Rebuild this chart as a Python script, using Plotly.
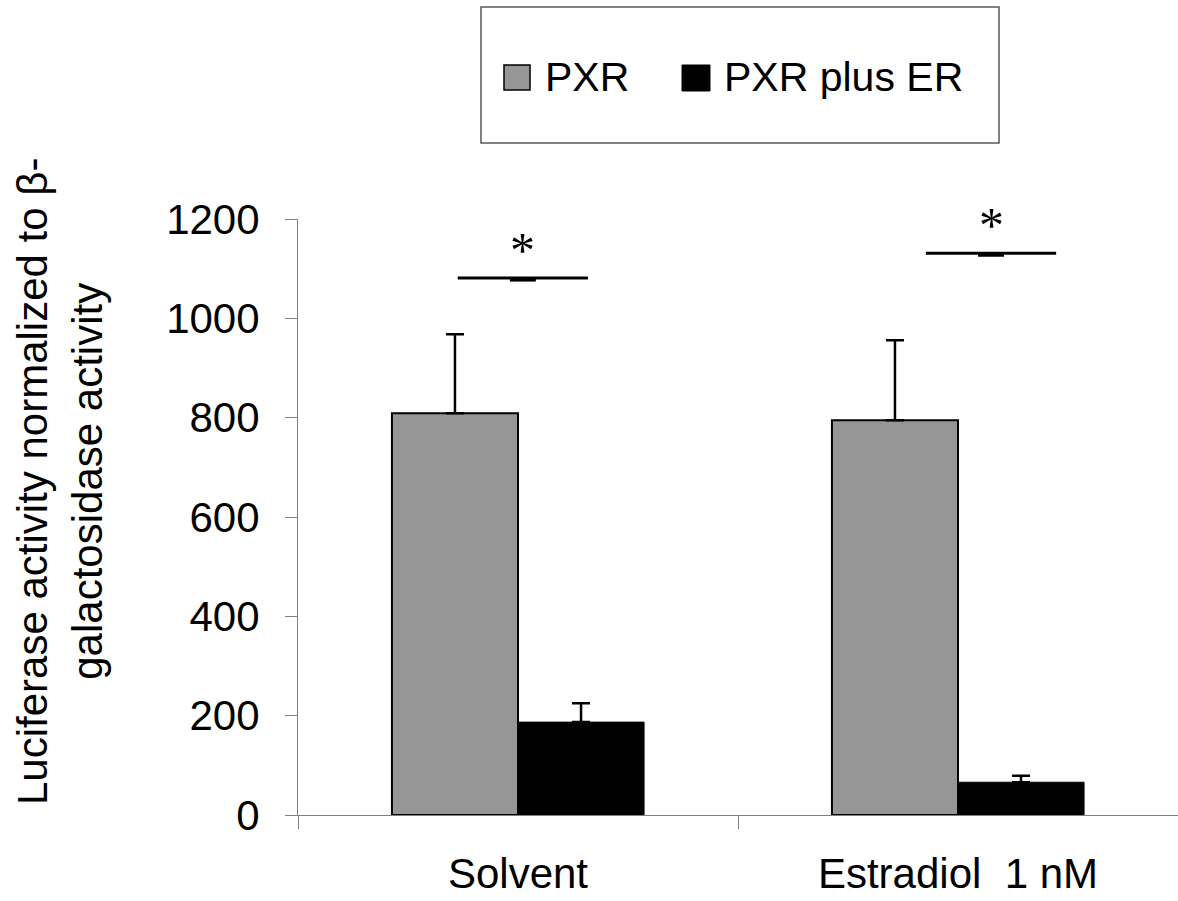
import plotly.graph_objects as go

categories = ["Solvent", "Estradiol  1 nM"]
series_names = ["PXR", "PXR plus ER"]
pxr_values = [809, 795]
pxr_errors = [159, 161]
pxr_er_values = [187, 66]
pxr_er_errors = [38, 13]
sig_levels = [1081, 1131]
sig_labels = ["*", "*"]
y_ticks = [0, 200, 400, 600, 800, 1000, 1200]
y_title = "Luciferase activity normalized to β-<br>galactosidase activity"

FONT = "Liberation Sans, Arial, sans-serif"
W, H = 1178, 901
L, R, T, B = 298, 0, 219, 86


def px_x(X):
    return (X - L) / (W - L - R)


def px_y(Y):
    return (H - B - Y) / (H - T - B)


fig = go.Figure()
fig.add_trace(go.Bar(
    x=categories, y=pxr_values, name=series_names[0],
    marker=dict(color="#969696", line=dict(color="#000000", width=2)),
    error_y=dict(type="data", array=pxr_errors, arrayminus=[0, 0], symmetric=False,
                 color="#000000", thickness=2.5, width=9),
    showlegend=False,
))
fig.add_trace(go.Bar(
    x=categories, y=pxr_er_values, name=series_names[1],
    marker=dict(color="#000000", line=dict(color="#000000", width=1)),
    error_y=dict(type="data", array=pxr_er_errors, arrayminus=[0, 0], symmetric=False,
                 color="#000000", thickness=2.5, width=9),
    showlegend=False,
))

shapes = []
annotations = []
# significance brackets
sig_centers = [0.011, 1.075]
half = 0.148
dip = 0.0295
for i, lvl in enumerate(sig_levels):
    c = sig_centers[i]
    shapes.append(dict(type="line", xref="x", yref="y", x0=c - half, x1=c + half,
                       y0=lvl, y1=lvl, line=dict(color="#000000", width=3)))
    shapes.append(dict(type="line", xref="x", yref="y", x0=c - dip, x1=c + dip,
                       y0=lvl - 4, y1=lvl - 4, line=dict(color="#000000", width=3)))
    annotations.append(dict(xref="x", yref="y", x=c, y=lvl, text=sig_labels[i],
                            showarrow=False, yanchor="bottom", yshift=-2,
                            font=dict(family="Liberation Serif, Times New Roman, serif",
                                      size=50, color="#000000")))

# legend box (manual)
shapes.append(dict(type="rect", xref="paper", yref="paper",
                   x0=px_x(481), x1=px_x(999), y0=px_y(143), y1=px_y(7),
                   line=dict(color="#595959", width=1.5), fillcolor="rgba(0,0,0,0)"))
shapes.append(dict(type="rect", xref="paper", yref="paper",
                   x0=px_x(504), x1=px_x(530), y0=px_y(90), y1=px_y(65),
                   line=dict(color="#000000", width=1.5), fillcolor="#969696"))
shapes.append(dict(type="rect", xref="paper", yref="paper",
                   x0=px_x(682), x1=px_x(710), y0=px_y(91), y1=px_y(65),
                   line=dict(color="#000000", width=1), fillcolor="#000000"))
annotations.append(dict(xref="paper", yref="paper", x=px_x(543), y=px_y(77),
                        text=series_names[0], showarrow=False, xanchor="left", yanchor="middle",
                        font=dict(family=FONT, size=41, color="#000000")))
annotations.append(dict(xref="paper", yref="paper", x=px_x(722), y=px_y(77),
                        text=series_names[1], showarrow=False, xanchor="left", yanchor="middle",
                        font=dict(family=FONT, size=41, color="#000000")))

# y-axis title
annotations.append(dict(xref="paper", yref="paper", x=px_x(60), y=px_y(482),
                        text=y_title, showarrow=False, textangle=-90,
                        xanchor="center", yanchor="middle", align="center",
                        font=dict(family=FONT, size=42, color="#000000")))

fig.update_layout(
    width=W, height=H,
    margin=dict(l=L, r=R, t=T, b=B, autoexpand=False),
    plot_bgcolor="#ffffff", paper_bgcolor="#ffffff",
    barmode="group", bargap=0.427, bargroupgap=0,
    showlegend=False,
    shapes=shapes, annotations=annotations,
    font=dict(family=FONT, color="#000000"),
)
fig.update_xaxes(
    type="category", range=[-0.5, 1.5], tickson="boundaries",
    ticks="outside", ticklen=13, tickcolor="#808080", tickwidth=1,
    showline=True, linecolor="#808080", linewidth=1,
    showgrid=False, zeroline=False, automargin=False,
    tickfont=dict(family=FONT, size=42, color="#000000"),
    ticklabelstandoff=22,
)
fig.update_yaxes(
    range=[0, 1200], tickvals=y_ticks, ticktext=[str(v) for v in y_ticks],
    ticks="outside", ticklen=12, tickcolor="#808080", tickwidth=1,
    showline=True, linecolor="#808080", linewidth=1,
    showgrid=False, zeroline=False, automargin=False,
    tickfont=dict(family=FONT, size=42, color="#000000"),
    ticklabelstandoff=17,
)

fig.write_html("out.html")
